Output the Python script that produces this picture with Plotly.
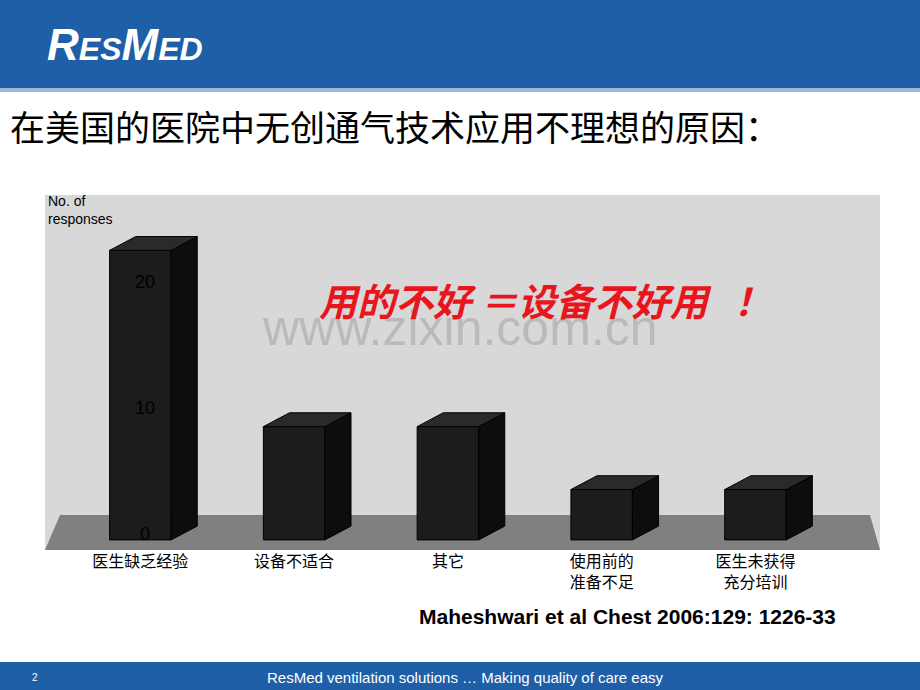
import plotly.graph_objects as go

categories = ["医生缺乏经验", "设备不适合", "其它", "使用前的<br>准备不足", "医生未获得<br>充分培训"]
responses = [23, 9, 9, 4, 4]
ytick_vals = [0, 10, 20]

W, H = 920, 690
half = 0.2      # half bar width in category units
dx, dy = 0.17, 1.1   # fake depth offset

fig = go.Figure()
for i, h in enumerate(responses):
    # right side face
    fig.add_trace(go.Scatter(
        x=[i + half, i + half + dx, i + half + dx, i + half, i + half],
        y=[0, dy, h + dy, h, 0], fill="toself", mode="lines",
        fillcolor="#0d0d0d", line=dict(color="#000", width=1), hoverinfo="skip", showlegend=False))
    # top face
    fig.add_trace(go.Scatter(
        x=[i - half, i + half, i + half + dx, i - half + dx, i - half],
        y=[h, h, h + dy, h + dy, h], fill="toself", mode="lines",
        fillcolor="#2a2a2a", line=dict(color="#000", width=1), hoverinfo="skip", showlegend=False))
fig.add_trace(go.Bar(x=list(range(len(categories))), y=responses, width=2 * half,
                     marker=dict(color="#1c1c1c", line=dict(color="#000", width=1)),
                     showlegend=False))

shapes = [
    # header band
    dict(type="rect", xref="paper", yref="paper", x0=0, x1=1, y0=1 - 88 / H, y1=1,
         fillcolor="#1f5fa8", line_width=0, layer="below"),
    dict(type="rect", xref="paper", yref="paper", x0=0, x1=1, y0=1 - 92 / H, y1=1 - 88 / H,
         fillcolor="#9fb9d8", line_width=0, layer="below"),
    # footer band
    dict(type="rect", xref="paper", yref="paper", x0=0, x1=1, y0=0, y1=28 / H,
         fillcolor="#1f5fa8", line_width=0, layer="below"),
    # floor
    dict(type="path", xref="paper", yref="paper", layer="below",
         path=f"M {45/W},{1-550/H} L {880/W},{1-550/H} L {870/W},{1-515/H} L {60/W},{1-515/H} Z",
         fillcolor="#808080", line_width=0),
]


def note(px, py, text, size, color="black", family="Arial", anchor="center", **kw):
    return dict(x=px / W, y=1 - py / H, xref="paper", yref="paper", xanchor=anchor,
                yanchor="middle", showarrow=False, text=text,
                font=dict(size=size, color=color, family=family), **kw)


annotations = [
    note(45, 45, "<b><i>R<span style='font-size:32px'>ES</span>M<span style='font-size:32px'>ED</span></i></b>",
         44, "white", anchor="left"),
    note(8, 125, "在美国的医院中无创通气技术应用不理想的原因：", 35, family="Noto Sans CJK SC", anchor="left"),
    note(46, 210, "No. of<br>responses", 14, anchor="left", align="left"),
    note(460, 328, "www.zixin.com.cn", 50, "rgba(150,150,150,0.45)"),
    note(545, 300, "<b><i>用的不好 ＝设备不好用   ！</i></b>", 38, "#e8161c", "Noto Sans CJK SC"),
    note(627, 616, "<b>Maheshwari et al Chest 2006:129: 1226-33</b>", 21),
    note(465, 677, "ResMed ventilation solutions … Making quality of care easy", 15, "white"),
    note(35, 677, "2", 10, "white"),
]
for v in ytick_vals:
    annotations.append(dict(x=0.03, y=v + 0.5, xref="x", yref="y", xanchor="center", yanchor="middle",
                            showarrow=False, text=str(v),
                            font=dict(size=18, color="black", family="Arial")))

fig.update_layout(
    width=W, height=H, margin=dict(l=0, r=0, t=0, b=0),
    paper_bgcolor="white", plot_bgcolor="#d8d8d8",
    shapes=shapes, annotations=annotations,
    xaxis=dict(domain=[45 / W, 880 / W], range=[-0.62, 4.81], tickvals=list(range(len(categories))),
               ticktext=categories, showgrid=False, zeroline=False, ticks="",
               tickfont=dict(size=16, color="black", family="Noto Sans CJK SC")),
    yaxis=dict(domain=[1 - 550 / H, 1 - 195 / H], range=[-0.8, 27.4], showticklabels=False,
               showgrid=False, zeroline=False),
)
fig.write_html("out.html", config={"displayModeBar": False},
               post_script="document.body.style.margin='0';")
